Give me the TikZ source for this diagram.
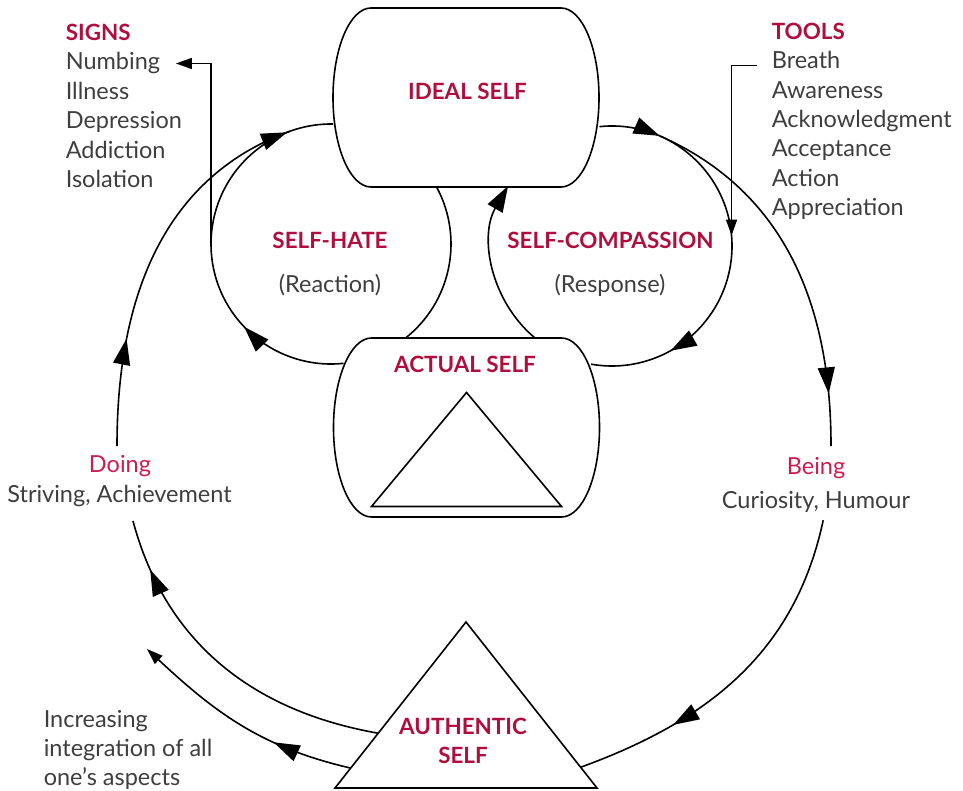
\documentclass[tikz,border=0pt]{standalone}
\usepackage{fontspec}
\setmainfont{Lato}
\usepackage{tikz}
\usetikzlibrary{positioning, arrows.meta, calc, decorations.markings}
\definecolor{crimson}{RGB}{176,14,60}
\definecolor{rosered}{RGB}{205,28,78}
\definecolor{inkgray}{RGB}{62,62,62}

\tikzset{
	bigtip/.tip={Triangle[length=26pt, width=17pt]},
	smalltip/.tip={Triangle[length=16pt, width=11pt]},
	midarrow/.style={postaction={decorate, decoration={markings, mark=at position #1 with {\arrow{bigtip}}}}},
	selfbox/.style={rectangle, minimum width=266pt, minimum height=179pt, inner sep=0pt, outer sep=0pt},
	ring/.style={circle, minimum size=#1, inner sep=0pt, outer sep=0pt},
	heading/.style={font=\fontsize{22.4}{26}\selectfont\bfseries, text=crimson, inner sep=0pt, anchor=base},
	item/.style={font=\fontsize{23.5}{29}\selectfont, text=inkgray, inner sep=0pt, anchor=base west},
	mode/.style={font=\fontsize{23.5}{29}\selectfont, text=rosered, inner sep=0pt, anchor=base},
}

\begin{document}
\begin{tikzpicture}[x=1pt, y=1pt, line width=1.6pt]
	\useasboundingbox (0,0) rectangle (963,-791);

	% the two selves and the circles between them
	\node[selfbox] (ideal) at (466,-97.5) {};
	\node[selfbox] (actual) at (466.5,-427.5) {};
	\node[ring=240pt] (hate) at (331,-244) {};
	\node[ring=240pt] (compassion) at (612,-246) {};
	\node[ring=714pt] (outer) at (474,-446) {};

	\draw ([xshift=38pt]ideal.north west) -- ([xshift=-38pt]ideal.north east)
		arc[start angle=90, end angle=-90, x radius=38, y radius=89.5]
		-- ([xshift=38pt]ideal.south west)
		arc[start angle=270, end angle=90, x radius=38, y radius=89.5] -- cycle;
	\draw ([xshift=38pt]actual.north west) -- ([xshift=-38pt]actual.north east)
		arc[start angle=90, end angle=-90, x radius=38, y radius=89.5]
		-- ([xshift=38pt]actual.south west)
		arc[start angle=270, end angle=90, x radius=38, y radius=89.5] -- cycle;
	\draw ([yshift=35pt]actual.center) -- ([shift={(-95pt,-79pt)}]actual.center)
		-- ([shift={(95pt,-79pt)}]actual.center) -- cycle;

	% authentic self
	\coordinate (auth-apex) at (466,-622);
	\coordinate (auth-left) at (335,-788);
	\coordinate (auth-right) at (597,-788);
	\draw (auth-apex) -- (auth-left) -- (auth-right) -- cycle;
	\coordinate (auth-out1) at ($(auth-apex)!0.67!(auth-left)$);
	\coordinate (auth-out2) at ($(auth-apex)!0.88!(auth-left)$);
	\coordinate (auth-in) at ($(auth-apex)!0.875!(auth-right)$);
	\coordinate (doing-gap) at (133,-521);
	\coordinate (integration-end) at (147,-649);

	% small loops
	\draw[midarrow=0.28, midarrow=0.88] (hate.276) arc[start angle=276, end angle=89, radius=120];
	\draw (hate.28) arc[start angle=28, end angle=-52, radius=120];
	\draw[midarrow=0.15, midarrow=0.80] (compassion.96) arc[start angle=96, end angle=-100, radius=120];
	\draw[-{bigtip}] (compassion.230) arc[start angle=230, end angle=150, radius=120];

	% big loop
	\draw[midarrow=0.28] (outer.180) to[out=90, in=200] (hate.110);
	\draw[midarrow=0.86] (compassion.66) to[out=-24, in=90] (outer.0);
	\draw[midarrow=0.72] (outer.-12) to[out=-102, in=20] (auth-in);
	\draw[midarrow=0.85] (auth-out1) to[out=170, in=-75] (doing-gap);
	\draw[midarrow=0.34, -{smalltip}] (auth-out2) to[out=167, in=-43] (integration-end);

	% labels
	\node[heading] (ideal-label) at (467.5,-100) {IDEAL SELF};
	\node[heading] (hate-label) at (330,-249) {SELF-HATE};
	\node[item, anchor=base] (reaction) at (330,-293) {(Reaction)};
	\node[heading] (compassion-label) at (610.5,-249) {SELF-COMPASSION};
	\node[item, anchor=base] (response) at (610,-293) {(Response)};
	\node[heading] (actual-label) at (465,-372) {ACTUAL SELF};
	\node[heading] (authentic-label) at (463,-734) {AUTHENTIC};
	\node[heading] (authentic-self) at (463,-763) {SELF};

	\node[mode] (doing) at (120,-472) {Doing};
	\node[item, anchor=base] (striving) at (119.5,-502) {Striving, Achievement};
	\node[mode] (being) at (816,-474) {Being};
	\node[item, anchor=base] (curiosity) at (816,-508) {Curiosity, Humour};

	\node[item] (increasing) at (43,-727) {Increasing};
	\node[item] (integration) at (43,-756) {integration of all};
	\node[item] (aspects) at (43,-785) {one’s aspects};

	% signs
	\node[heading, anchor=base west] (signs) at (65,-41) {SIGNS};
	\node[item] (numbing) at (65,-70) {Numbing};
	\node[item] (illness) at (65,-99.5) {Illness};
	\node[item] (depression) at (65,-129) {Depression};
	\node[item] (addiction) at (65,-158.5) {Addiction};
	\node[item] (isolation) at (65,-188) {Isolation};
	\draw[-{smalltip}, shorten >=15pt] (hate.west) |- (numbing.east);

	% tools
	\node[heading, anchor=base west] (tools) at (771,-40) {TOOLS};
	\node[item] (breath) at (771,-69) {Breath};
	\node[item] (awareness) at (771,-98.3) {Awareness};
	\node[item] (acknowledgment) at (771,-127.6) {Acknowledgment};
	\node[item] (acceptance) at (771,-157) {Acceptance};
	\node[item] (action) at (771,-186.3) {Action};
	\node[item] (appreciation) at (771,-215.6) {Appreciation};
	\draw[-{smalltip}, shorten <=14pt] ([yshift=-5pt]breath.west) -| (compassion.5);
\end{tikzpicture}
\end{document}
